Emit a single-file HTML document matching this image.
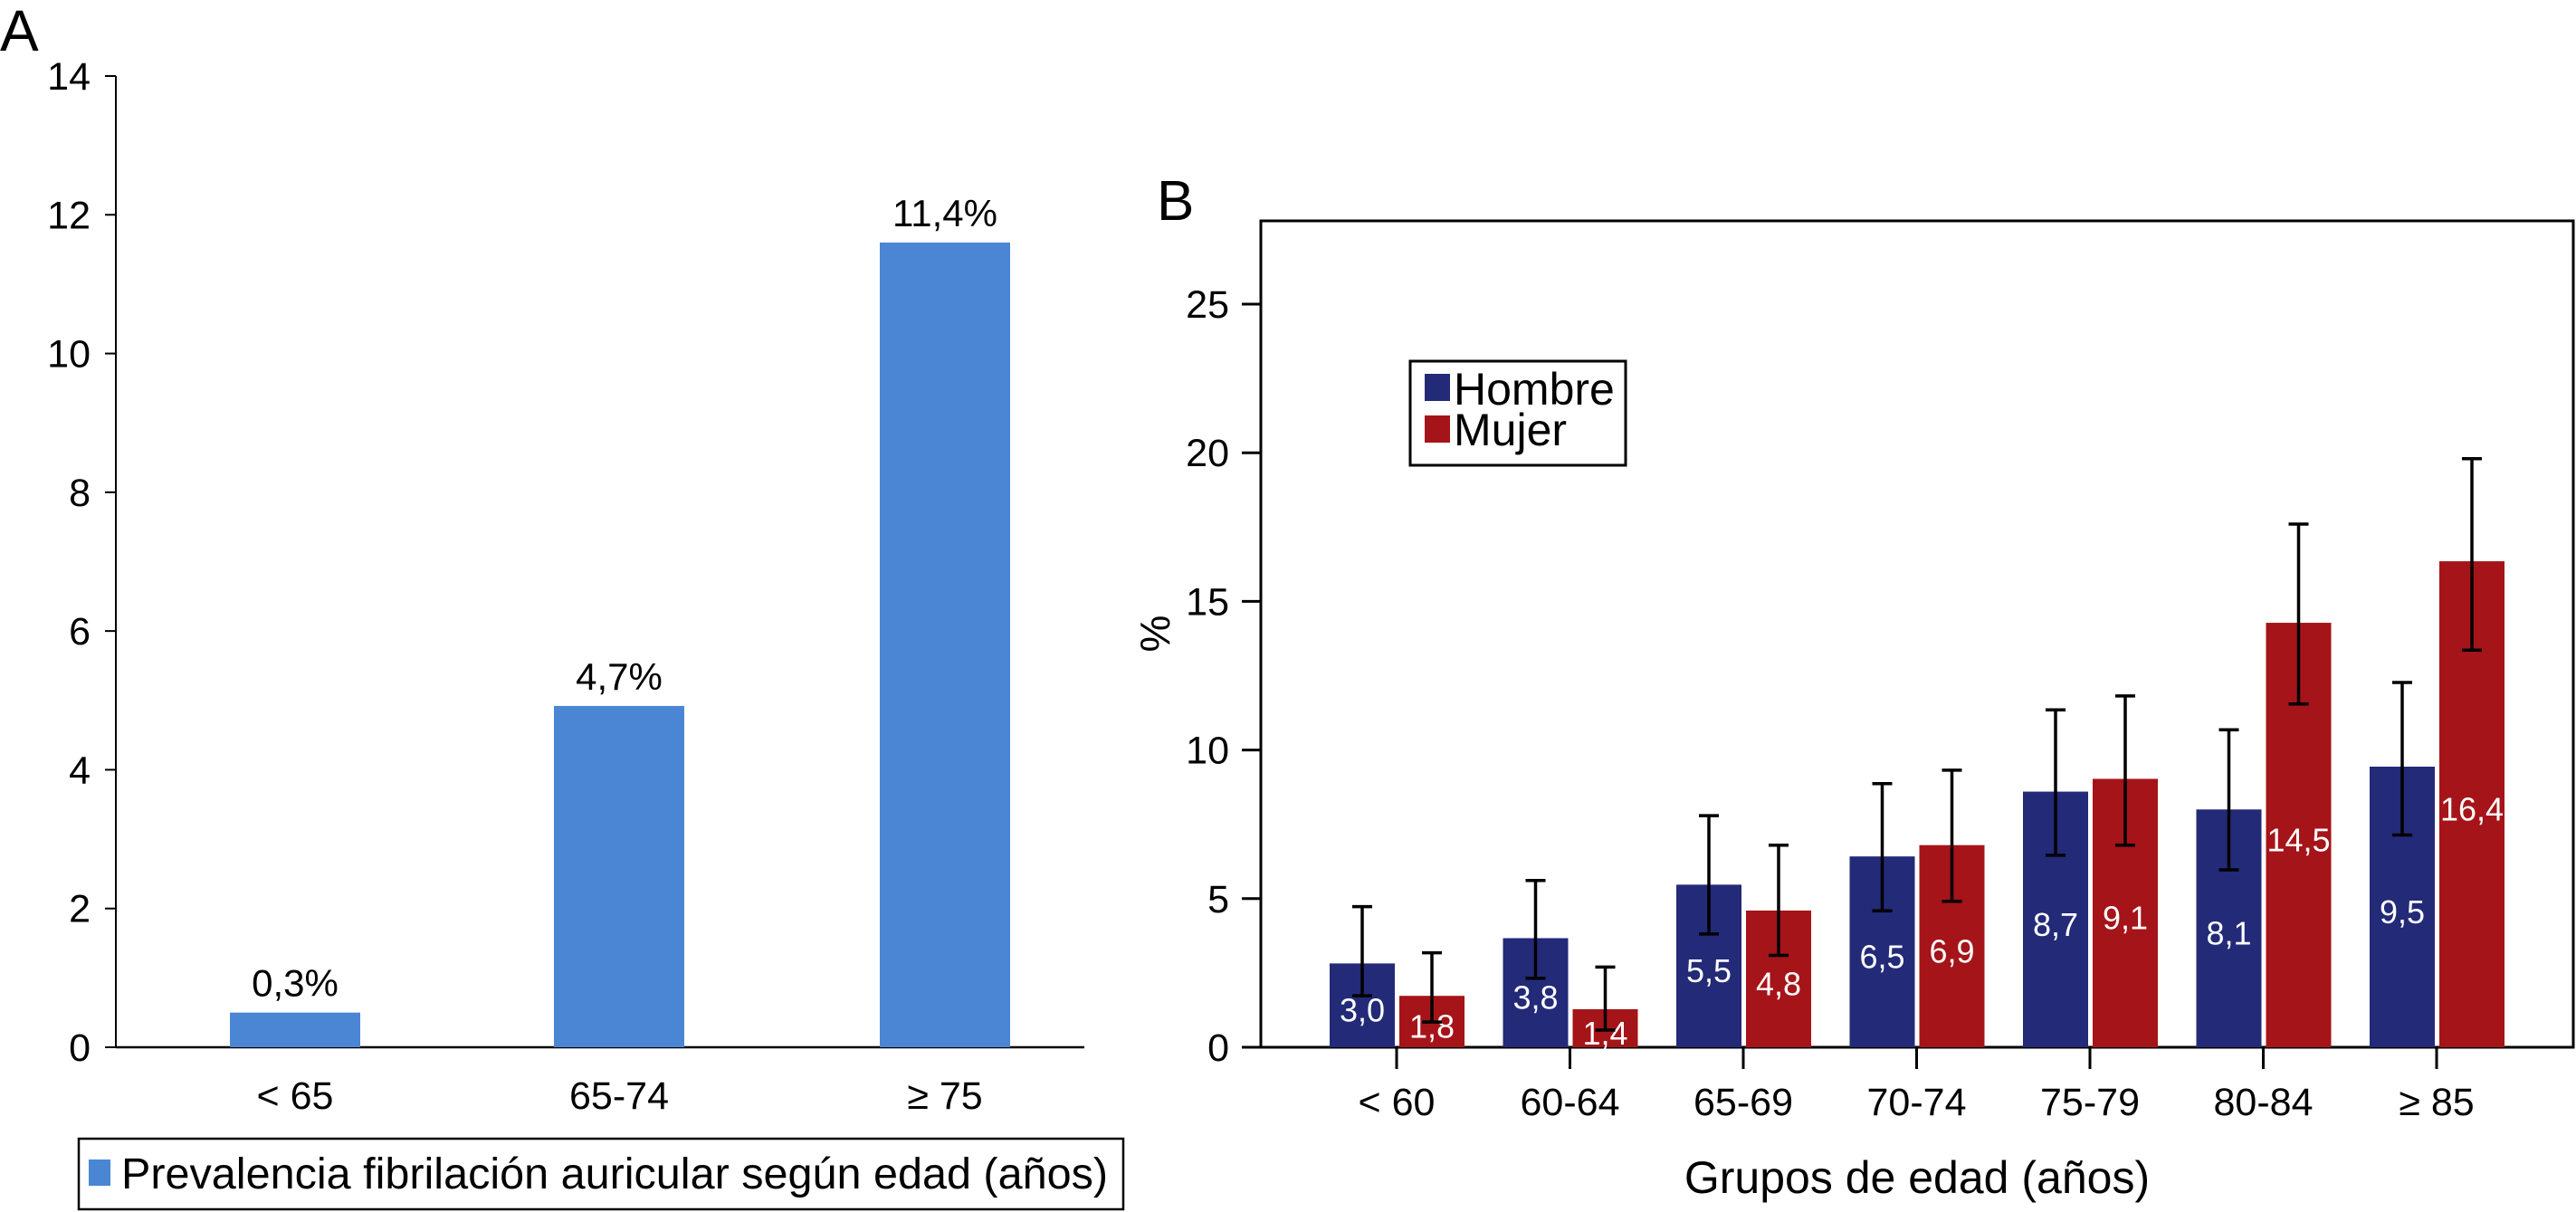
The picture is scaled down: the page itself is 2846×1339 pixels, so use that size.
<!DOCTYPE html>
<html><head><meta charset="utf-8"><style>
html,body{margin:0;padding:0;background:#fff;}
svg{display:block;font-family:"Liberation Sans",Arial,sans-serif;}
</style></head><body>
<svg id="chart" width="2846" height="1339" viewBox="0 0 2846 1339" xmlns="http://www.w3.org/2000/svg"></svg>
<script>
const aCategories = ['< 65', '65-74', '≥ 75'];
const aValues = [0.5, 4.92, 11.6];
const aLabels = ['0,3%', '4,7%', '11,4%'];
const aTicks = [0, 2, 4, 6, 8, 10, 12, 14];

const bCategories = ['< 60', '60-64', '65-69', '70-74', '75-79', '80-84', '≥ 85'];
const hombreValues = [2.82, 3.67, 5.47, 6.42, 8.6, 8.0, 9.44];
const hombreLow = [1.73, 2.32, 3.81, 4.59, 6.46, 5.97, 7.14];
const hombreHigh = [4.73, 5.61, 7.79, 8.87, 11.35, 10.68, 12.27];
const hombreLabels = ['3,0', '3,8', '5,5', '6,5', '8,7', '8,1', '9,5'];
const mujerValues = [1.73, 1.28, 4.6, 6.8, 9.03, 14.28, 16.35];
const mujerLow = [0.85, 0.58, 3.09, 4.91, 6.8, 11.55, 13.36];
const mujerHigh = [3.18, 2.7, 6.8, 9.32, 11.82, 17.6, 19.8];
const mujerLabels = ['1,8', '1,4', '4,8', '6,9', '9,1', '14,5', '16,4'];
const bTicks = [0, 5, 10, 15, 20, 25];

const svg = document.getElementById('chart');
const NS = 'http://www.w3.org/2000/svg';
function mk(tag, attrs, text) {
  const e = document.createElementNS(NS, tag);
  for (const k in attrs) e.setAttribute(k, attrs[k]);
  if (text !== undefined) e.textContent = text;
  svg.appendChild(e);
  return e;
}
let e;

// ---------- Panel A ----------
const aY = v => 1157 - v * (1157 - 84) / 14;
const aX = i => [326, 684, 1044][i];
e = mk('text', {x: 0, y: 56, 'font-size': 64}, 'A');


e = mk('line', {x1: 128, y1: 84, x2: 128, y2: 1157, stroke: '#000', 'stroke-width': 2});


e = mk('line', {x1: 128, y1: 1157, x2: 1198, y2: 1157, stroke: '#000', 'stroke-width': 2.5});


aTicks.forEach(t => {
  e = mk('line', {x1: 116, y1: aY(t), x2: 128, y2: aY(t), stroke: '#000', 'stroke-width': 2});
  
  
  e = mk('text', {x: 100, y: aY(t) + 15, 'font-size': 43, 'text-anchor': 'end'}, String(t));
  
  
});
aCategories.forEach((c, i) => {
  const cx = aX(i), w = 144;
  e = mk('rect', {x: cx - w / 2, y: aY(aValues[i]), width: w, height: aY(0) - aY(aValues[i]), fill: '#4a86d4'});
  
  
  e = mk('text', {x: cx, y: aY(aValues[i]) - 18, 'font-size': 42, 'text-anchor': 'middle'}, aLabels[i]);
  
  
  e = mk('text', {x: cx, y: 1225, 'font-size': 43, 'text-anchor': 'middle'}, c);
  
  
});
e = mk('rect', {x: 87, y: 1258, width: 1154, height: 78, fill: 'none', stroke: '#000', 'stroke-width': 2.5});


e = mk('rect', {x: 98, y: 1281, width: 24, height: 29, fill: '#4a86d4'});


e = mk('text', {x: 134, y: 1313, 'font-size': 48, textLength: 1090, lengthAdjust: 'spacingAndGlyphs'}, 'Prevalencia fibrilación auricular según edad (años)');



// ---------- Panel B ----------
const bY = v => 1157 - v * (1157 - 336) / 25;
const bX = i => 1543 + i * 191.5;
e = mk('text', {x: 1278, y: 243, 'font-size': 62}, 'B');


e = mk('path', {d: 'M1393,1157 L1393,244 L2843,244 L2843,1157 Z', fill: 'none', stroke: '#000', 'stroke-width': 3});


bTicks.forEach(t => {
  e = mk('line', {x1: 1372, y1: bY(t), x2: 1393, y2: bY(t), stroke: '#000', 'stroke-width': 3});
  
  
  e = mk('text', {x: 1358, y: bY(t) + 15, 'font-size': 43, 'text-anchor': 'end'}, String(t));
  
  
});
e = mk('text', {x: 0, y: 0, 'font-size': 46, 'text-anchor': 'middle', transform: 'translate(1292,700) rotate(-90)'}, '%');



function errBar(cx, lo, hi) {
  e = mk('path', {d: `M${cx - 11},${bY(hi)} H${cx + 11} M${cx},${bY(hi)} V${bY(lo)} M${cx - 11},${bY(lo)} H${cx + 11}`, fill: 'none', stroke: '#000', 'stroke-width': 3.5});
  
  
}
bCategories.forEach((c, i) => {
  const cx = bX(i);
  const hy = bY(hombreValues[i]), my = bY(mujerValues[i]);
  e = mk('rect', {x: cx - 74, y: hy, width: 72, height: bY(0) - hy, fill: '#232a78'});
  
  
  e = mk('rect', {x: cx + 3, y: my, width: 72, height: bY(0) - my, fill: '#a51419'});
  
  
  e = mk('text', {x: cx - 38, y: (hy + bY(0)) / 2 + 18, 'font-size': 36, fill: '#fff', 'text-anchor': 'middle'}, hombreLabels[i]);
  
  
  e = mk('text', {x: cx + 39, y: (my + bY(0)) / 2 + 18, 'font-size': 36, fill: '#fff', 'text-anchor': 'middle'}, mujerLabels[i]);
  
  
  errBar(cx - 38, hombreLow[i], hombreHigh[i]);
  errBar(cx + 39, mujerLow[i], mujerHigh[i]);
  e = mk('line', {x1: cx, y1: 1157, x2: cx, y2: 1181, stroke: '#000', 'stroke-width': 3});
  
  
  e = mk('text', {x: cx, y: 1232, 'font-size': 43, 'text-anchor': 'middle'}, c);
  
  
});
e = mk('text', {x: 2118, y: 1318, 'font-size': 50, 'text-anchor': 'middle'}, 'Grupos de edad (años)');


e = mk('rect', {x: 1558, y: 399, width: 238, height: 115, fill: '#fff', stroke: '#000', 'stroke-width': 3});


e = mk('rect', {x: 1574, y: 413, width: 28, height: 30, fill: '#232a78'});


e = mk('text', {x: 1606, y: 447, 'font-size': 50}, 'Hombre');


e = mk('rect', {x: 1574, y: 459, width: 28, height: 30, fill: '#a51419'});


e = mk('text', {x: 1606, y: 492, 'font-size': 50}, 'Mujer');


</script>
</body></html>
